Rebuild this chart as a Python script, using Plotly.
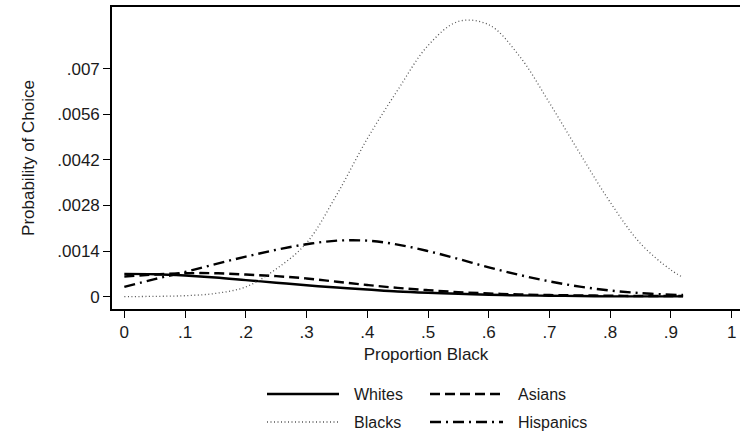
import plotly.graph_objects as go

# Proportion black in the neighbourhood (x) and predicted choice probability by group
proportion_black = [0.0, 0.05, 0.10, 0.15, 0.20, 0.25, 0.30, 0.35, 0.40, 0.45,
                    0.50, 0.55, 0.60, 0.65, 0.70, 0.75, 0.80, 0.85, 0.90, 0.92]

whites = [0.00070, 0.00069, 0.00065, 0.00059, 0.00051, 0.00043, 0.00035, 0.00028,
          0.00022, 0.00016, 0.00012, 0.00009, 0.00006, 0.00004, 0.00003, 0.00002,
          0.00001, 0.00001, 0.00001, 0.00001]

blacks = [0.0, 0.00001, 0.00003, 0.00010, 0.00030, 0.00085, 0.00165, 0.00314,
          0.00485, 0.00634, 0.00771, 0.00845, 0.00835, 0.00740, 0.00595, 0.00440,
          0.00290, 0.00163, 0.00082, 0.00059]

asians = [0.00062, 0.00068, 0.00072, 0.00072, 0.00068, 0.00063, 0.00056, 0.00046,
          0.00036, 0.00027, 0.00020, 0.00014, 0.00010, 0.00007, 0.00005, 0.00004,
          0.00003, 0.00002, 0.00002, 0.00002]

hispanics = [0.00030, 0.00054, 0.00076, 0.00100, 0.00123, 0.00144, 0.00161, 0.00172,
             0.00172, 0.00160, 0.00140, 0.00116, 0.00090, 0.00067, 0.00047, 0.00031,
             0.00019, 0.00011, 0.00006, 0.00005]

x_tick_vals = [0, .1, .2, .3, .4, .5, .6, .7, .8, .9, 1]
x_tick_text = ["0", ".1", ".2", ".3", ".4", ".5", ".6", ".7", ".8", ".9", "1"]
y_tick_vals = [0, .0014, .0028, .0042, .0056, .007]
y_tick_text = ["0", ".0014", ".0028", ".0042", ".0056", ".007"]

FONT = "Liberation Sans, Arial, sans-serif"
W, H = 740, 435
M_L, M_R, M_T, M_B = 112, 0, 7, 126

# line styles per group: (name, values, colour, width, dash)
styles = [
    ("Whites", whites, "black", 2.4, "solid"),
    ("Asians", asians, "black", 2.4, "10px,5px"),
    ("Blacks", blacks, "#555555", 1.3, "1px,2.5px"),
    ("Hispanics", hispanics, "black", 2.4, "11px,5px,2px,5px"),
]

fig = go.Figure()
for name, vals, color, width, dash in styles:
    fig.add_trace(go.Scatter(
        x=proportion_black, y=vals, name=name, mode="lines",
        line=dict(color=color, width=width, dash=dash, shape="spline", smoothing=1.0),
        showlegend=False,
    ))


def to_px(px, py):
    """Convert canvas pixel position to paper coordinates."""
    pw = W - M_L - M_R
    ph = H - M_T - M_B
    return (px - M_L) / pw, (H - M_B - py) / ph


# Two-column key below the plot
key_layout = {
    "Whites": (267, 339, 394),
    "Asians": (430, 503, 394),
    "Blacks": (267, 339, 422),
    "Hispanics": (430, 503, 422),
}
shapes = []
annotations = []
for name, vals, color, width, dash in styles:
    x0, x1, yy = key_layout[name]
    px0, py = to_px(x0, yy)
    px1, _ = to_px(x1, yy)
    shapes.append(dict(type="line", xref="paper", yref="paper",
                       x0=px0, x1=px1, y0=py, y1=py,
                       line=dict(color=color, width=width, dash=dash)))
    tx, ty = to_px(x1 + 13, yy)
    annotations.append(dict(text=name, xref="paper", yref="paper", x=tx, y=ty,
                            xanchor="left", yanchor="middle", showarrow=False,
                            font=dict(family=FONT, size=16, color="#1a1a1a")))

fig.update_layout(
    width=W, height=H,
    margin=dict(l=M_L, r=M_R, t=M_T, b=M_B),
    paper_bgcolor="white", plot_bgcolor="white",
    font=dict(family=FONT, size=17, color="#1a1a1a"),
    shapes=shapes, annotations=annotations,
    xaxis=dict(
        range=[-0.0203, 1.0137], tickvals=x_tick_vals, ticktext=x_tick_text,
        showgrid=False, zeroline=False,
        showline=True, linecolor="black", linewidth=1.6, mirror=True,
        ticks="outside", ticklen=7, tickwidth=1.2, tickcolor="black",
        tickfont=dict(size=17),
        title=dict(text="Proportion Black", font=dict(size=17), standoff=7),
    ),
    yaxis=dict(
        range=[-0.000378, 0.008894], tickvals=y_tick_vals, ticktext=y_tick_text,
        showgrid=False, zeroline=False,
        showline=True, linecolor="black", linewidth=1.6,
        ticks="outside", ticklen=7, tickwidth=1.2, tickcolor="black",
        tickfont=dict(size=17),
        title=dict(text="Probability of Choice", font=dict(size=17), standoff=18),
    ),
)

fig.write_html("out.html")
